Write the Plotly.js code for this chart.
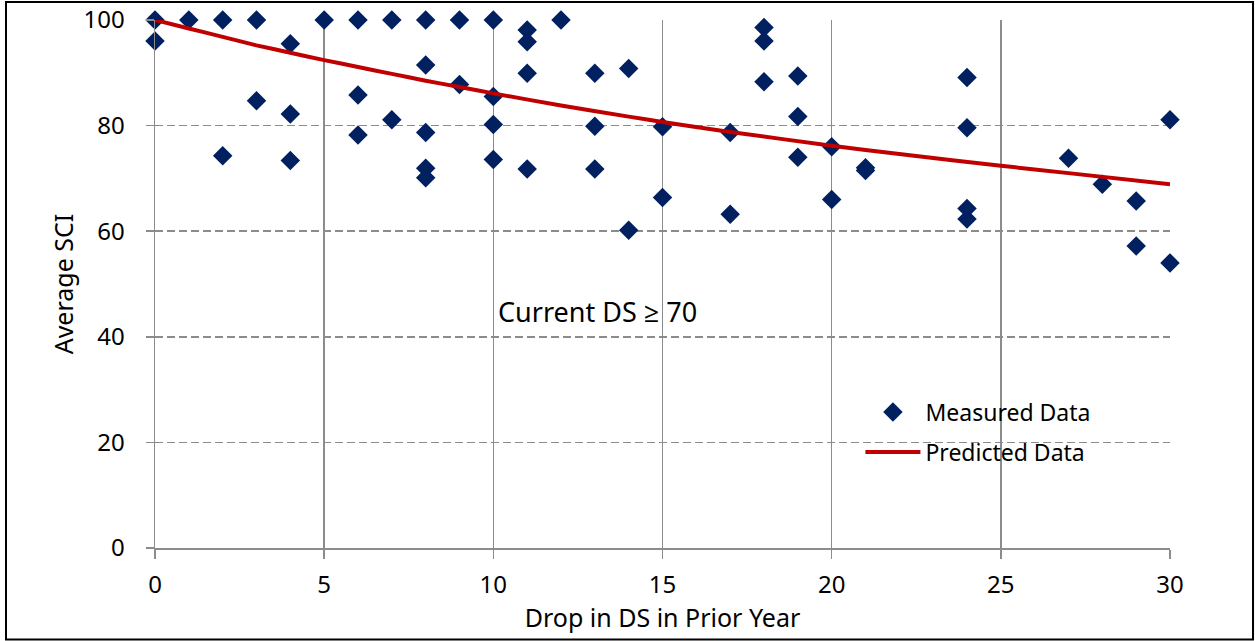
<!DOCTYPE html>
<html>
<head>
<meta charset="utf-8">
<script src="https://cdn.plot.ly/plotly-3.0.1.min.js"></script>
<style>
  html, body { margin: 0; padding: 0; background: #fff; }
  #chart { width: 1255px; height: 641px; }
</style>
</head>
<body>
<div id="chart"></div>
<script>
// Measured data: drop in DS in prior year vs. average SCI
const measuredX = [0,0,1,2,2,3,3,4,4,4,5,6,6,6,7,7,8,8,8,8,8,9,9,10,10,10,10,11,11,11,11,12,13,13,13,14,14,15,15,17,17,18,18,18,19,19,19,20,20,21,21,24,24,24,24,27,28,29,29,30,30];
const measuredY = [100,96,100,100,74.3,100,84.7,95.5,82.2,73.4,100,100,85.8,78.2,100,81.1,100,91.5,78.7,71.9,70.1,100,87.8,100,85.5,80.2,73.6,98.1,95.9,89.9,71.8,100,89.9,79.9,71.8,90.8,60.2,79.8,66.4,78.7,63.2,98.6,96.0,88.3,89.4,81.7,74.0,76.0,66.0,71.5,72.0,89.1,79.6,64.3,62.3,73.8,68.9,65.7,57.2,81.1,54.0];

// Predicted curve
const predictedX = [0,1,2,3,4,5,6,7,8,9,10,12,14,15,17,20,22,25,27,30];
const predictedY = [100,98.4,96.8,95.2,93.8,92.4,91.1,89.8,88.5,87.3,86.1,83.8,81.7,80.7,78.8,76.2,74.6,72.4,71.0,68.9];

const xTickVals = [0,5,10,15,20,25,30];
const yTickVals = [0,20,40,60,80,100];

const FONT = "'Noto Sans', 'Open Sans', sans-serif";
const GRID = '#8c8c8c';

const traces = [
  {
    type: 'scatter', mode: 'markers', name: 'Measured Data',
    x: measuredX, y: measuredY, cliponaxis: false,
    legendgroup: 'a',
    marker: { symbol: 'diamond', size: 15, color: '#002060' }
  },
  {
    type: 'scatter', mode: 'lines', name: 'Predicted Data',
    x: predictedX, y: predictedY, cliponaxis: false,
    legendgroup: 'b',
    line: { color: '#C00000', width: 4, shape: 'spline', smoothing: 0.6 }
  }
];

const layout = {
  width: 1255, height: 641,
  margin: { l: 155, r: 85, t: 20, b: 93 },
  paper_bgcolor: '#ffffff', plot_bgcolor: '#ffffff',
  font: { family: FONT, color: '#000000', size: 24 },
  showlegend: true,
  legend: {
    x: 0.695, y: 0.298, xanchor: 'left', yanchor: 'top',
    bgcolor: 'rgba(0,0,0,0)', borderwidth: 0,
    font: { family: FONT, size: 23, color: '#000' },
    itemwidth: 55, traceorder: 'grouped', tracegroupgap: 7
  },
  xaxis: {
    range: [0, 30], tickvals: xTickVals, ticktext: xTickVals.map(String),
    showgrid: true, gridcolor: GRID, gridwidth: 1.5, griddash: 'solid',
    zeroline: false, showline: true, linecolor: GRID, linewidth: 1.5,
    ticks: 'outside', ticklen: 9, tickcolor: GRID, tickwidth: 1.5,
    tickfont: { family: FONT, size: 24, color: '#000' },
    ticklabelstandoff: 6,
    title: { text: 'Drop in DS in Prior Year', font: { family: FONT, size: 25, color: '#000' }, standoff: 4 }
  },
  yaxis: {
    range: [0, 100], tickvals: yTickVals, ticktext: yTickVals.map(String),
    showgrid: true, gridcolor: GRID, gridwidth: 1.5, griddash: '8px,4px',
    zeroline: false, showline: true, linecolor: GRID, linewidth: 1.5,
    ticks: 'outside', ticklen: 8, tickcolor: GRID, tickwidth: 1.5,
    tickfont: { family: FONT, size: 24, color: '#000' },
    ticklabelstandoff: 16,
    title: { text: 'Average SCI', font: { family: FONT, size: 25, color: '#000' }, standoff: 3 }
  },
  annotations: [
    {
      xref: 'x', yref: 'y', x: 13.08, y: 44.7, showarrow: false,
      text: 'Current DS ≥ 70', xanchor: 'center', yanchor: 'middle',
      font: { family: FONT, size: 27, color: '#000' }
    }
  ],
  shapes: [
    {
      type: 'rect', xref: 'paper', yref: 'paper', layer: 'above',
      x0: -0.1468, x1: 1.0818, y0: -0.1733, y1: 1.0341,
      line: { color: '#000', width: 2 }, fillcolor: 'rgba(0,0,0,0)'
    }
  ]
};

Plotly.newPlot('chart', traces, layout, { displayModeBar: false, staticPlot: true });
</script>
</body>
</html>
